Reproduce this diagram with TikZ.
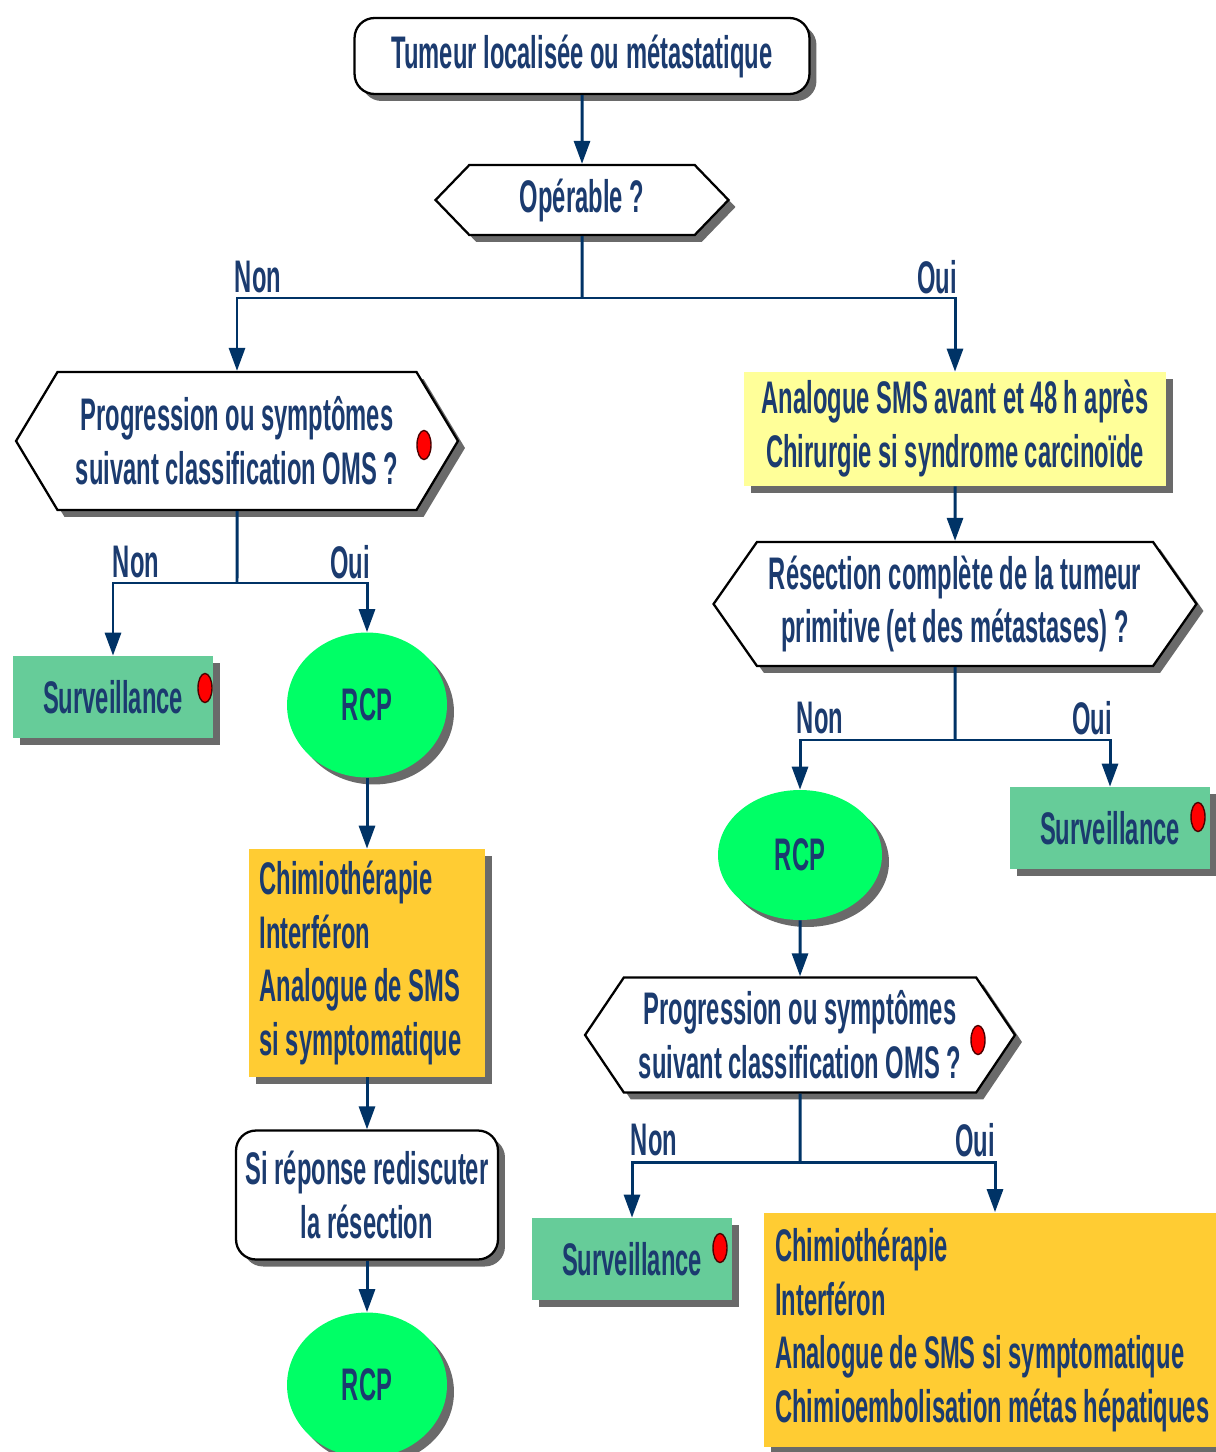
\documentclass[tikz,border=0pt]{standalone}
\usepackage{fontspec}
\newfontfamily\flowfont{Liberation Sans}[FakeStretch=0.52]
\usepackage{xcolor}
\usetikzlibrary{positioning,arrows.meta,shapes.geometric,shapes.symbols,shadows}
\definecolor{FlowNavy}{HTML}{003366}
\definecolor{FlowText}{HTML}{1B3B6F}
\definecolor{FlowGreen}{HTML}{66CC99}
\definecolor{FlowLime}{HTML}{00FF66}
\definecolor{FlowOrange}{HTML}{FFCC33}
\definecolor{FlowYellow}{HTML}{FFFF99}
\definecolor{FlowShadow}{HTML}{6A6A6A}

\tikzset{
  txt/.style={font=\flowfont\bfseries\fontsize{26}{30.7}\selectfont, text=FlowText, align=center},
  shade/.style={drop shadow={shadow xshift=0.14cm, shadow yshift=-0.14cm, fill=FlowShadow, opacity=1}},
  roundbox/.style={txt, shade, draw=black, line width=1.3pt, fill=white, rounded corners=0.4cm},
  hexbox/.style={txt, shade, signal, signal to=west and east, draw=black, line width=1.3pt, fill=white, inner sep=0pt},
  survbox/.style={txt, shade, fill=FlowGreen, minimum width=4cm, minimum height=1.64cm},
  rcpnode/.style={txt, shade, ellipse, fill=FlowLime, minimum width=3.2cm, minimum height=2.9cm},
  treatbox/.style={txt, shade, fill=FlowOrange, align=flush left, inner xsep=0.22cm},
  notebox/.style={txt, shade, fill=FlowYellow},
  reddot/.style={ellipse, fill=red, draw=black!70!red, line width=0.8pt, minimum width=0.28cm, minimum height=0.58cm, inner sep=0pt},
  answer/.style={txt},
  link/.style={draw=FlowNavy, line width=1.7pt},
  flow/.style={link, -{Triangle[length=0.46cm, width=0.32cm]}}
}

\begin{document}
\begin{tikzpicture}[x=0.02cm, y=-0.02cm]
  \useasboundingbox (0,0) rectangle (1215,1452);

  % top
  \node[roundbox, minimum width=9.1cm, minimum height=1.52cm] (tumeur) at (582,56) {Tumeur localisée ou métastatique};
  \node[hexbox, minimum width=5.86cm, minimum height=1.4cm, signal pointer angle=92] (operable) at (582,200) {Opérable ?};
  \coordinate (forkA) at (582,298);

  % left branch
  \node[hexbox, minimum width=8.84cm, minimum height=2.76cm, signal pointer angle=118] (progA) at (237,441) {Progression ou symptômes\\suivant classification OMS ?};
  \node[reddot] (dotA) at (424,445) {};
  \coordinate (forkB) at (237,583);
  \node[survbox] (survA) at (113,697) {Surveillance};
  \node[reddot] (dotB) at (205,688) {};
  \node[rcpnode] (rcpA) at (367,705) {RCP};
  \node[treatbox, text width=4.3cm, minimum height=4.56cm] (chimioA) at (367,963) {Chimiothérapie\\Interféron\\Analogue de SMS\\si symptomatique};
  \node[roundbox, minimum width=5.24cm, minimum height=2.58cm] (reponse) at (367,1195) {Si réponse rediscuter\\la résection};
  \node[rcpnode] (rcpB) at (367,1385) {RCP};

  % right branch
  \node[notebox, minimum width=8.46cm, minimum height=2.28cm] (analogue) at (955,429) {Analogue SMS avant et 48 h après\\Chirurgie si syndrome carcinoïde};
  \node[hexbox, minimum width=9.66cm, minimum height=2.48cm, signal pointer angle=110] (resection) at (955,604) {Résection complète de la tumeur\\primitive (et des métastases) ?};
  \coordinate (forkC) at (955,740);
  \node[rcpnode, minimum width=3.28cm, minimum height=2.6cm] (rcpC) at (800,855) {RCP};
  \node[survbox] (survB) at (1110,828) {Surveillance};
  \node[reddot] (dotC) at (1198,817) {};
  \node[hexbox, minimum width=8.6cm, minimum height=2.3cm, signal pointer angle=112] (progB) at (800,1035) {Progression ou symptômes\\suivant classification OMS ?};
  \node[reddot] (dotD) at (978,1040) {};
  \coordinate (forkD) at (800,1162);
  \node[survbox] (survC) at (632,1259) {Surveillance};
  \node[reddot] (dotE) at (720,1248) {};
  \node[treatbox, text width=9.0cm, minimum height=4.7cm] (chimioB) at (1000,1330) {Chimiothérapie\\Interféron\\Analogue de SMS si symptomatique\\Chimioembolisation métas hépatiques};

  % connectors
  \draw[flow] (tumeur) -- (operable);
  \draw[link] (operable) -- (forkA);
  \draw[flow] (forkA) -| (progA.north);
  \draw[flow] (forkA) -| (analogue.north);
  \draw[link] (progA) -- (forkB);
  \draw[flow] (forkB) -| (survA.north);
  \draw[flow] (forkB) -| (rcpA.north);
  \draw[flow] (rcpA) -- (chimioA);
  \draw[flow] (chimioA) -- (reponse);
  \draw[flow] (reponse) -- (rcpB);
  \draw[flow] (analogue) -- (resection);
  \draw[link] (resection) -- (forkC);
  \draw[flow] (forkC) -| (rcpC.north);
  \draw[flow] (forkC) -| (survB.north);
  \draw[flow] (rcpC) -- (progB);
  \draw[link] (progB) -- (forkD);
  \draw[flow] (forkD) -| (survC.north);
  \draw[flow] (forkD) -| ([xshift=-0.1cm]chimioB.north);

  % answers
  \node[answer] (nonA) at (258,277) {Non};
  \node[answer] (ouiA) at (937,277) {Oui};
  \node[answer] (nonB) at (136,562) {Non};
  \node[answer] (ouiB) at (350,562) {Oui};
  \node[answer] (nonC) at (820,718) {Non};
  \node[answer] (ouiC) at (1092,718) {Oui};
  \node[answer] (nonD) at (654,1140) {Non};
  \node[answer] (ouiD) at (975,1140) {Oui};
\end{tikzpicture}
\end{document}
